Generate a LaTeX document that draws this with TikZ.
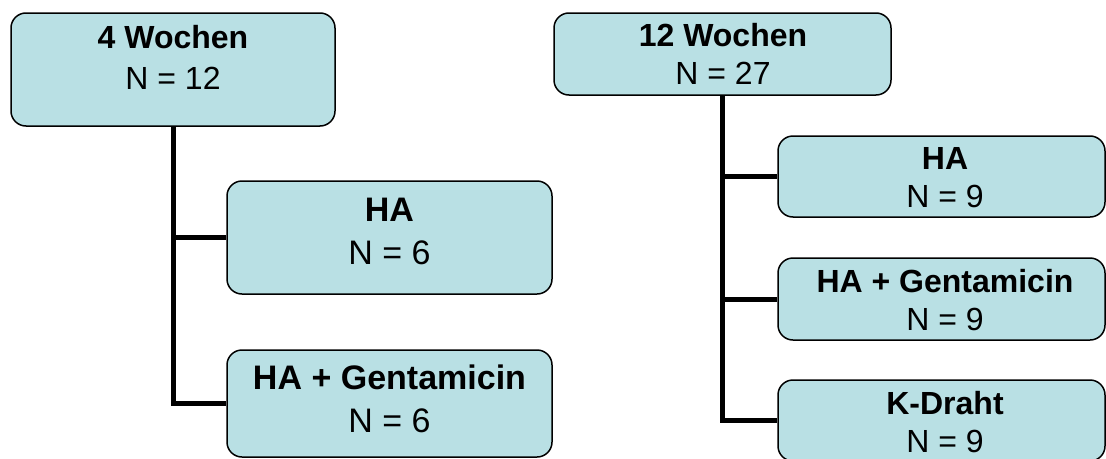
\documentclass[tikz,border=0pt]{standalone}
\usepackage{fontspec}
\setmainfont{Liberation Sans}
\definecolor{boxfill}{RGB}{185,224,228}
\begin{document}
\begin{tikzpicture}[x=1pt,y=-1pt,
  box/.style={draw=black,line width=1.5pt,fill=boxfill,rounded corners=15pt,inner sep=0pt},
  conn/.style={draw=black,line width=5pt},
  lbl/.style={align=center,inner sep=0pt},
  fA/.style={font=\fontsize{32}{41}\selectfont},
  fB/.style={font=\fontsize{34}{43}\selectfont},
  fC/.style={font=\fontsize{32}{38}\selectfont}]
\useasboundingbox (0,0) rectangle (1106,458);
% left tree
\node[box,minimum width=324pt,minimum height=113pt] (L0) at (173,69.5) {};
\node[box,minimum width=325pt,minimum height=113pt] (L1) at (389.5,237.5) {};
\node[box,minimum width=325pt,minimum height=107pt] (L2) at (389.5,403.5) {};
\draw[conn] (L0.south) |- (L1.west);
\draw[conn] (L0.south) |- (L2.west);
\node[lbl,fA] (L0t) at (173,57.5) {\textbf{4 Wochen}\\N = 12};
\node[lbl,fB] (L1t) at (389.5,231) {\textbf{HA}\\N = 6};
\node[lbl,fB] (L2t) at (389.5,398.5) {\textbf{HA + Gentamicin}\\N = 6};
% right tree
\node[box,minimum width=337pt,minimum height=82pt] (R0) at (722.5,54) {};
\node[box,minimum width=327pt,minimum height=81pt] (R1) at (941.5,176.5) {};
\node[box,minimum width=327pt,minimum height=82pt] (R2) at (941.5,299) {};
\node[box,minimum width=327pt,minimum height=81pt] (R3) at (941.5,420.5) {};
\draw[conn] (R0.south) |- (R1.west);
\draw[conn] (R0.south) |- (R2.west);
\draw[conn] (R0.south) |- (R3.west);
\node[lbl,fC] (R0t) at (723,54) {\textbf{12 Wochen}\\N = 27};
\node[lbl,fC] (R1t) at (945,178) {\textbf{HA}\\N = 9};
\node[lbl,fC] (R2t) at (945,300.5) {\textbf{HA + Gentamicin}\\N = 9};
\node[lbl,fC] (R3t) at (945,422) {\textbf{K-Draht}\\N = 9};
\end{tikzpicture}
\end{document}
